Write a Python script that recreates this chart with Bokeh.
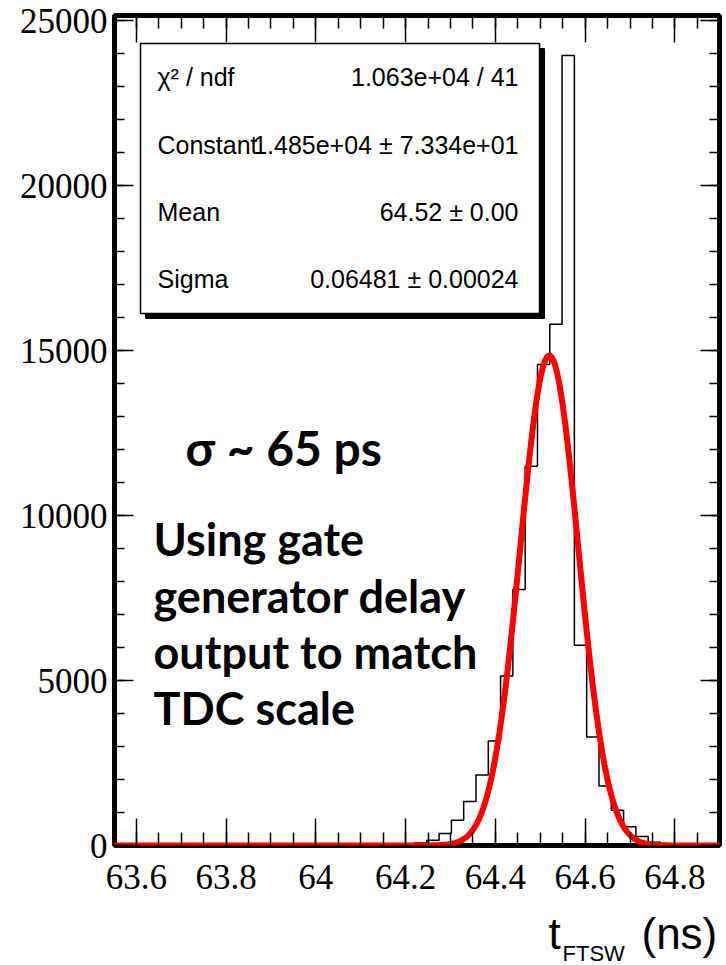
import numpy as np
from bokeh.plotting import figure
from bokeh.layouts import column
from bokeh.models import Range1d, LinearAxis, FixedTicker, Label, CustomJSTickFormatter
from bokeh.embed import file_html
from bokeh.resources import INLINE

# ---------------- data ----------------
x_start, x_end = 63.5514, 64.8992
y_start, y_end = 0, 25160

bin_width = 0.0274
first_edge = 64.1923
counts = [30, 75, 160, 360, 765, 1330, 2140, 3170, 5140, 7760, 11500, 14580,
          15800, 23950, 6070, 3290, 1800, 1070, 570, 270, 100, 40]

fit_constant = 14850.0
fit_mean = 64.52
fit_sigma = 0.06481

stat_names = ["χ² / ndf", "Constant", "Mean", "Sigma"]
stat_values = ["1.063e+04 / 41", "1.485e+04 ± 7.334e+01", "64.52 ± 0.00", "0.06481 ± 0.00024"]

x_major = [63.6, 63.8, 64.0, 64.2, 64.4, 64.6, 64.8]
x_minor = [round(63.55 + 0.05 * i, 2) for i in range(28)]
y_major = [0, 5000, 10000, 15000, 20000, 25000]
y_minor = [1000 * i for i in range(26)]

note_sigma = "σ ~ 65 ps"
note_lines = ["Using gate", "generator delay", "output to match", "TDC scale"]

title_main, title_sub, title_unit = "t", "FTSW", "(ns)"

# ---------------- layout helpers (pixel -> data) ----------------
FL, FR, FT, FB = 114.0, 719.0, 15.0, 845.0
MAIN_H = 905


def X(px):
    return x_start + (px - FL) / (FR - FL) * (x_end - x_start)


def Y(py):
    return y_start + (FB - py) / (FB - FT) * (y_end - y_start)


p = figure(width=726, height=MAIN_H, x_range=Range1d(x_start, x_end), y_range=Range1d(y_start, y_end),
           output_backend="svg", toolbar_location=None,
           x_axis_location=None, y_axis_location=None,
           min_border_left=114, min_border_right=7, min_border_top=15, min_border_bottom=MAIN_H - 845)
p.grid.grid_line_color = None
p.outline_line_color = "black"
p.outline_line_width = 5
p.background_fill_color = "white"
p.border_fill_color = "white"

fmt = CustomJSTickFormatter(code="return String(Math.round(tick*10)/10);")
yfmt = CustomJSTickFormatter(code="return String(Math.round(tick));")


def make_axis(ticks, minor, major_in, minor_in, show_labels, formatter, standoff):
    ax = LinearAxis(ticker=FixedTicker(ticks=ticks, minor_ticks=minor), formatter=formatter)
    ax.axis_line_color = None
    ax.major_tick_in = major_in
    ax.major_tick_out = 0
    ax.minor_tick_in = minor_in
    ax.minor_tick_out = 0
    ax.major_tick_line_color = "black"
    ax.minor_tick_line_color = "black"
    ax.major_tick_line_width = 1.5
    ax.minor_tick_line_width = 1.5
    ax.major_label_standoff = standoff
    if show_labels:
        ax.major_label_text_font = "Liberation Serif"
        ax.major_label_text_font_size = "35px"
        ax.major_label_text_color = "black"
    else:
        ax.major_label_text_font_size = "1px"
        ax.major_label_text_alpha = 0
        ax.major_label_standoff = 0
    return ax


p.add_layout(make_axis(x_major, x_minor, 27, 13, True, fmt, 19), "below")
p.add_layout(make_axis(x_major, x_minor, 27, 13, False, fmt, 0), "above")
p.add_layout(make_axis(y_major, y_minor, 19, 10, True, yfmt, 7), "left")
p.add_layout(make_axis(y_major, y_minor, 19, 10, False, yfmt, 0), "right")

# histogram outline
edges = first_edge + bin_width * np.arange(len(counts) + 1)
hx = [x_start] + list(edges) + [x_end]
hy = [0] + list(counts) + [0, 0]
p.step(hx, hy, mode="after", line_color="black", line_width=1.5)

# gaussian fit curve (from the fit parameters)
gx = np.linspace(x_start, x_end, 900)
gy = fit_constant * np.exp(-0.5 * ((gx - fit_mean) / fit_sigma) ** 2)
p.line(gx, gy, line_color="#ff0000", line_width=6)

# stats box with shadow
p.quad(left=X(145), right=X(544), top=Y(48), bottom=Y(318), fill_color="black", line_color="black")
p.quad(left=X(140), right=X(539), top=Y(43), bottom=Y(313), fill_color="white", line_color="black",
       line_width=1.5)

row_y = [76, 144, 211, 278]
for name, val, ry in zip(stat_names, stat_values, row_y):
    p.add_layout(Label(x=X(157), y=Y(ry), text=name, text_font="Liberation Sans", text_font_size="25px",
                       text_align="left", text_baseline="middle", text_color="black"))
    p.add_layout(Label(x=X(518), y=Y(ry), text=val, text_font="Liberation Sans", text_font_size="25px",
                       text_align="right", text_baseline="middle", text_color="black"))

# annotation texts
p.add_layout(Label(x=X(185), y=Y(447), text=note_sigma, text_font="Lato", text_font_style="bold",
                   text_font_size="48px", text_align="left", text_baseline="middle", text_color="black"))
for line, ly in zip(note_lines, [538, 595, 651, 707]):
    p.add_layout(Label(x=X(153), y=Y(ly), text=line, text_font="Lato", text_font_style="bold",
                       text_font_size="45px", text_align="left", text_baseline="middle", text_color="black"))

# ---------------- axis title strip (page pixel coordinates) ----------------
# the column aligns this strip's frame with the main frame (x from FL to FR)
p2 = figure(width=726, height=965 - MAIN_H, x_range=Range1d(FL, FR), y_range=Range1d(965, MAIN_H),
            output_backend="svg", toolbar_location=None, x_axis_location=None, y_axis_location=None,
            title=None,
            min_border_left=0, min_border_right=0, min_border_top=0, min_border_bottom=0)
p2.grid.grid_line_color = None
p2.outline_line_color = None
p2.background_fill_color = "white"
p2.border_fill_color = "white"

p2.add_layout(Label(x=548, y=933, text=title_main, text_font="Liberation Sans", text_font_size="44px",
                    text_align="left", text_baseline="middle", text_color="black"))
p2.add_layout(Label(x=562, y=953, text=title_sub, text_font="Liberation Sans", text_font_size="22px",
                    text_align="left", text_baseline="middle", text_color="black"))
p2.add_layout(Label(x=641, y=933, text=title_unit, text_font="Liberation Sans", text_font_size="44px",
                    text_align="left", text_baseline="middle", text_color="black"))

layout = column(p, p2, spacing=0)
open("out.html", "w").write(file_html(layout, INLINE))
